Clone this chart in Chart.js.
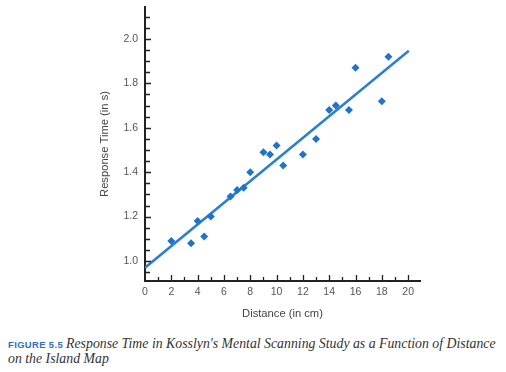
<!DOCTYPE html>
<html>
<head>
<meta charset="utf-8">
<script src="https://cdn.jsdelivr.net/npm/chart.js@4"></script>
<style>
  html, body { margin: 0; padding: 0; background: #fff; }
  #wrap { position: relative; width: 506px; height: 372px; }
  #chartBox { position: absolute; left: 0; top: 0; width: 506px; height: 330px; }
  #caption {
    position: absolute; left: 8px; top: 336px; width: 498px;
    font: italic 13.8px/15px "Liberation Serif", serif; color: #333;
  }
  #caption b {
    font: bold 9.4px "Liberation Sans", sans-serif; color: #2f6fb8;
    letter-spacing: 0.4px; font-style: normal; margin-right: 3px;
  }
</style>
</head>
<body>
<div id="wrap">
  <div id="chartBox"><canvas id="canvasChart"></canvas></div>
  <div id="caption"><b>FIGURE 5.5</b>Response Time in Kosslyn's Mental Scanning Study as a Function of Distance<br>on the Island Map</div>
</div>
<script>
const distance = [2, 3.5, 4, 4.5, 5, 6.5, 7, 7.5, 8, 9, 9.5, 10, 10.5, 12, 13, 14, 14.5, 15.5, 16, 18, 18.5]
const responseTime = [1.09, 1.08, 1.18, 1.11, 1.2, 1.29, 1.32, 1.33, 1.4, 1.49, 1.48, 1.52, 1.43, 1.48, 1.55, 1.68, 1.7, 1.68, 1.87, 1.72, 1.92]
const fitX = [0, 20.05]
const fitY = [0.97, 1.947]
const xTicks = [0, 1, 2, 3, 4, 5, 6, 7, 8, 9, 10, 11, 12, 13, 14, 15, 16, 17, 18, 19, 20]
const xLabels = ['0', '', '2', '', '4', '', '6', '', '8', '', '10', '', '12', '', '14', '', '16', '', '18', '', '20']
const yTicks = [0.95, 1.0, 1.05, 1.1, 1.15, 1.2, 1.25, 1.3, 1.35, 1.4, 1.45, 1.5, 1.55, 1.6, 1.65, 1.7, 1.75, 1.8, 1.85, 1.9, 1.95, 2.0, 2.05, 2.1]
const yLabels = ['', '1.0', '', '', '', '1.2', '', '', '', '1.4', '', '', '', '1.6', '', '', '', '1.8', '', '', '', '2.0', '', '']

const blue = '#1f74c9'

// ticks drawn inward from the axis lines
const inwardTicks = {
  id: 'inwardTicks',
  afterDraw(chart) {
    const { ctx, scales: { x, y } } = chart
    ctx.save()
    ctx.strokeStyle = '#222'
    ctx.lineWidth = 1.3
    ctx.beginPath()
    xTicks.forEach((v, i) => {
      if (v === 0) return
      const px = Math.round(x.getPixelForValue(v)) + 0.5
      const len = xLabels[i] ? 6 : 4
      ctx.moveTo(px, y.bottom)
      ctx.lineTo(px, y.bottom - len)
    })
    yTicks.forEach((v, i) => {
      const py = Math.round(y.getPixelForValue(v)) + 0.5
      const len = yLabels[i] ? 6 : 5
      ctx.moveTo(x.left, py)
      ctx.lineTo(x.left + len, py)
    })
    ctx.stroke()
    ctx.restore()
  },
}

const tickFont = { family: 'Liberation Sans', size: 10.5 }
const titleFont = { family: 'Liberation Sans', size: 11.2 }

new Chart(document.getElementById('canvasChart'), {
  type: 'scatter',
  data: {
    datasets: [
      {
        data: distance.map((d, i) => ({ x: d, y: responseTime[i] })),
        pointStyle: 'rectRot',
        pointRadius: 4,
        backgroundColor: blue,
        borderColor: blue,
        borderWidth: 0,
        order: 1,
      },
      {
        type: 'line',
        data: fitX.map((d, i) => ({ x: d, y: fitY[i] })),
        borderColor: '#2a80d0',
        borderWidth: 2.5,
        pointRadius: 0,
        order: 2,
      },
    ],
  },
  options: {
    responsive: true,
    maintainAspectRatio: false,
    animation: false,
    layout: { padding: { left: 98, right: 86, top: 7, bottom: 5 } },
    plugins: { legend: { display: false }, tooltip: { enabled: false } },
    scales: {
      x: {
        type: 'linear',
        min: 0,
        max: 20.9,
        afterBuildTicks: (scale) => { scale.ticks = xTicks.map((v) => ({ value: v })) },
        afterFit: (scale) => {
          scale.height = 44
          scale.paddingLeft = 0
          scale.paddingRight = 0
        },
        ticks: {
          autoSkip: false,
          maxRotation: 0,
          padding: 5,
          color: '#555',
          font: tickFont,
          callback: (v, i) => xLabels[i],
        },
        grid: { display: true, drawOnChartArea: false, drawTicks: false },
        border: { display: true, color: '#222', width: 2 },
        title: {
          display: true,
          text: 'Distance (in cm)',
          color: '#444',
          font: titleFont,
          padding: { top: 4, bottom: 4 },
        },
      },
      y: {
        type: 'linear',
        min: 0.91,
        max: 2.144,
        afterBuildTicks: (scale) => { scale.ticks = yTicks.map((v) => ({ value: v })) },
        afterFit: (scale) => {
          scale.width = 47
          scale.paddingTop = 0
          scale.paddingBottom = 0
        },
        ticks: {
          autoSkip: false,
          padding: 7,
          color: '#555',
          font: tickFont,
          callback: (v, i) => yLabels[i],
        },
        grid: { display: true, drawOnChartArea: false, drawTicks: false },
        border: { display: true, color: '#222', width: 2 },
        title: {
          display: true,
          text: 'Response Time (in s)',
          color: '#444',
          font: titleFont,
          padding: { top: 0, bottom: 0 },
        },
      },
    },
  },
  plugins: [inwardTicks],
})
</script>
</body>
</html>
